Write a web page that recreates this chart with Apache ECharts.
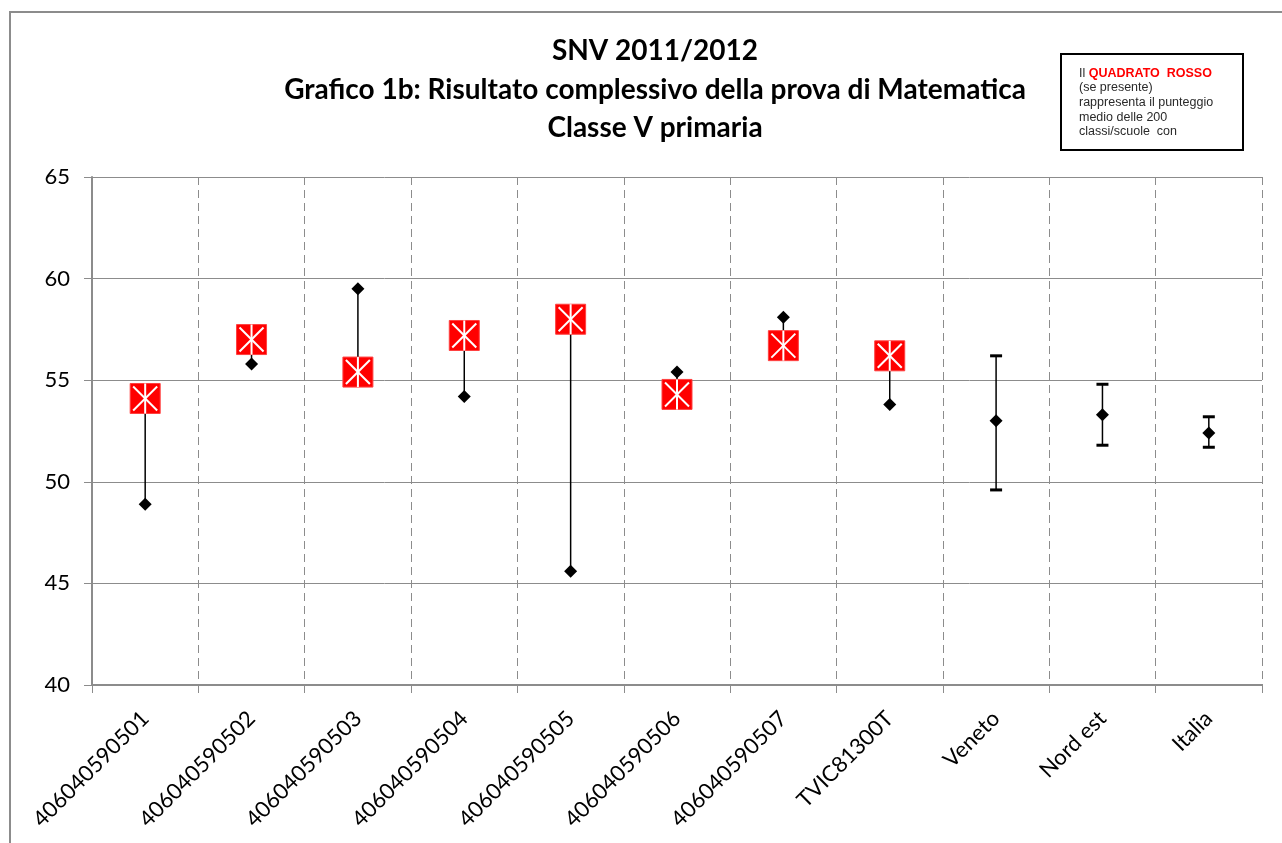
<!DOCTYPE html>
<html>
<head>
<meta charset="utf-8">
<script src="https://cdn.jsdelivr.net/npm/echarts@6/dist/echarts.min.js"></script>
<style>
  html, body { margin: 0; padding: 0; background: #fff; }
  #chart { width: 1282px; height: 843px; }
</style>
</head>
<body>
<div id="chart"></div>
<script>
// categorie asse x
const categories = [
  '406040590501', '406040590502', '406040590503', '406040590504',
  '406040590505', '406040590506', '406040590507', 'TVIC81300T',
  'Veneto', 'Nord est', 'Italia'
]
// punteggio della classe/scuola (rombo nero)
const scores = [48.9, 55.8, 59.5, 54.2, 45.6, 55.4, 58.1, 53.8, 53.0, 53.3, 52.4]
// quadrato rosso: punteggio medio delle 200 classi/scuole
const redSquare = [54.1, 57.0, 55.4, 57.2, 58.0, 54.3, 56.7, 56.2, null, null, null]
// intervallo per Veneto, Nord est, Italia
const rangeLow = [null, null, null, null, null, null, null, null, 49.6, 51.8, 51.7]
const rangeHigh = [null, null, null, null, null, null, null, null, 56.2, 54.8, 53.2]
const yTicks = [40, 45, 50, 55, 60, 65]

const chart = echarts.init(document.getElementById('chart'))

// linee di collegamento e barre d'errore
const linkData = categories.map((c, i) => [i, scores[i], redSquare[i], rangeLow[i], rangeHigh[i]])

function renderLink(params, api) {
  const i = api.value(0)
  const children = []
  const style = { stroke: '#000', lineWidth: 1.5 }
  if (rangeLow[i] != null) {
    const lo = api.coord([i, rangeLow[i]])
    const hi = api.coord([i, rangeHigh[i]])
    children.push({ type: 'line', shape: { x1: lo[0], y1: lo[1], x2: hi[0], y2: hi[1] }, style })
    children.push({ type: 'line', shape: { x1: lo[0] - 6, y1: lo[1], x2: lo[0] + 6, y2: lo[1] }, style: { stroke: '#000', lineWidth: 3 } })
    children.push({ type: 'line', shape: { x1: hi[0] - 6, y1: hi[1], x2: hi[0] + 6, y2: hi[1] }, style: { stroke: '#000', lineWidth: 3 } })
  } else if (redSquare[i] != null) {
    const a = api.coord([i, scores[i]])
    const b = api.coord([i, redSquare[i]])
    children.push({ type: 'line', shape: { x1: a[0], y1: a[1], x2: b[0], y2: b[1] }, style })
  }
  return { type: 'group', children }
}

function renderSquare(params, api) {
  const v = api.value(1)
  if (v == null || isNaN(v)) return
  const p = api.coord([api.value(0), v])
  const h = 15, d = 12
  const white = { stroke: '#fff', lineWidth: 2 }
  return {
    type: 'group',
    children: [
      { type: 'rect', shape: { x: p[0] - h, y: p[1] - h, width: 2 * h, height: 2 * h }, style: { fill: '#ff0000', stroke: '#ff4040', lineWidth: 1 } },
      { type: 'line', shape: { x1: p[0] - d, y1: p[1] - d, x2: p[0] + d, y2: p[1] + d }, style: white },
      { type: 'line', shape: { x1: p[0] - d, y1: p[1] + d, x2: p[0] + d, y2: p[1] - d }, style: white },
      { type: 'line', shape: { x1: p[0], y1: p[1] - h, x2: p[0], y2: p[1] + h }, style: white }
    ]
  }
}

chart.setOption({
  backgroundColor: '#fff',
  animation: false,
  title: {
    text: 'SNV 2011/2012\nGrafico 1b: Risultato complessivo della prova di Matematica\nClasse V primaria',
    left: 650,
    top: 27,
    textAlign: 'center',
    textStyle: {
      fontFamily: 'Lato',
      fontWeight: 'bold',
      fontSize: 28,
      lineHeight: 38.5,
      color: '#000'
    }
  },
  graphic: [
    {
      type: 'rect',
      shape: { x: 10, y: 12, width: 1300, height: 900 },
      style: { fill: 'none', stroke: '#8c8c8c', lineWidth: 2 },
      z: -1
    },
    {
      type: 'rect',
      shape: { x: 1061, y: 54, width: 182, height: 96 },
      style: { fill: '#fff', stroke: '#000', lineWidth: 2 }
    },
    {
      type: 'text',
      left: 1079,
      top: 66,
      style: {
        text: '{k|Il }{r|QUADRATO  ROSSO}\n{k|(se presente)}\n{k|rappresenta il punteggio}\n{k|medio delle 200}\n{k|classi/scuole  con}',
        fontFamily: 'Liberation Sans',
        fontSize: 12.5,
        lineHeight: 14.6,
        fill: '#000',
        rich: {
          k: { fontFamily: 'Liberation Sans', fontSize: 12.5, lineHeight: 14.6, fill: '#2a2a2a' },
          r: { fontFamily: 'Liberation Sans', fontSize: 12.5, lineHeight: 14.6, fill: '#ff0000', fontWeight: 'bold' }
        }
      }
    }
  ],
  grid: { left: 92, right: 20, top: 177, bottom: 158 },
  xAxis: {
    type: 'category',
    data: categories,
    boundaryGap: true,
    axisLine: { lineStyle: { color: '#8c8c8c', width: 2 } },
    axisTick: { show: true, length: 8, lineStyle: { color: '#8c8c8c' } },
    axisLabel: {
      interval: 0,
      rotate: 45,
      margin: 30,
      fontFamily: 'Lato',
      fontSize: 22,
      color: '#000'
    },
    splitLine: { show: true, lineStyle: { color: '#8c8c8c', type: [8, 5], width: 1 } }
  },
  yAxis: {
    type: 'value',
    min: yTicks[0],
    max: yTicks[yTicks.length - 1],
    interval: 5,
    axisLine: { show: true, lineStyle: { color: '#8c8c8c', width: 2 } },
    axisTick: { show: true, length: 8, lineStyle: { color: '#8c8c8c' } },
    axisLabel: {
      margin: 22,
      fontFamily: 'Lato',
      fontSize: 22,
      color: '#000'
    },
    splitLine: { show: true, lineStyle: { color: '#8c8c8c', width: 1 } }
  },
  series: [
    {
      type: 'custom',
      renderItem: renderLink,
      data: linkData,
      encode: { x: 0, y: [1, 2] },
      z: 2
    },
    {
      type: 'scatter',
      data: scores.map((v, i) => [i, v]),
      symbol: 'diamond',
      symbolSize: [13, 13],
      itemStyle: { color: '#000', opacity: 1 },
      z: 3
    },
    {
      type: 'custom',
      renderItem: renderSquare,
      data: redSquare.map((v, i) => [i, v == null ? '-' : v]),
      encode: { x: 0, y: 1 },
      z: 4
    }
  ]
})
</script>
</body>
</html>
